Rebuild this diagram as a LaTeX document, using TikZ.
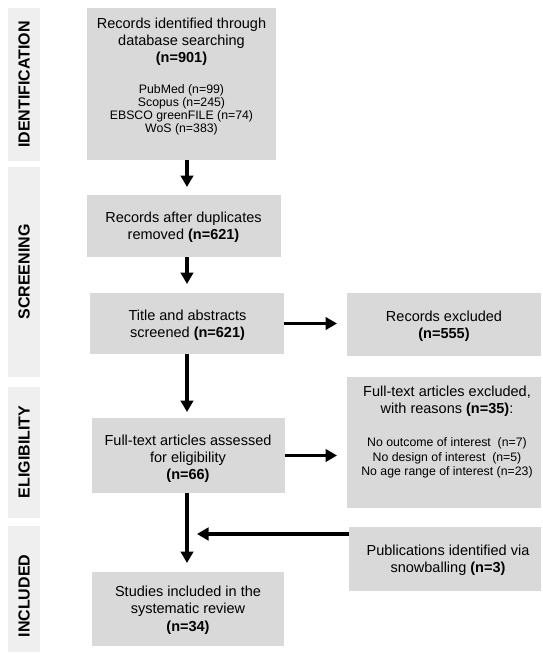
\documentclass[tikz,border=0pt]{standalone}
\usepackage{fontspec}
\setmainfont{Liberation Sans}
\usetikzlibrary{arrows.meta}
\definecolor{boxgray}{HTML}{D9D9D9}
\definecolor{sidegray}{HTML}{EFEFEF}
\begin{document}
\begin{tikzpicture}[x=1pt,y=-1pt,
  box/.style={fill=boxgray, draw=none, inner sep=0pt, outer sep=0pt},
  side/.style={fill=sidegray, draw=none, inner sep=0pt, outer sep=0pt},
  sidetxt/.style={rotate=90, inner sep=0pt, font=\fontsize{16}{19}\selectfont\bfseries},
  maintxt/.style={align=center, inner sep=0pt, font=\fontsize{14.5}{17.2}\selectfont},
  smalltxt/.style={align=center, inner sep=0pt, font=\fontsize{12.3}{13.1}\selectfont},
  arr/.style={line width=3.6pt, -{Triangle[width=12.5pt,length=11.5pt]}}]
\useasboundingbox (0,0) rectangle (542,654);
% side bands
\node[side, minimum width=32pt, minimum height=153pt] (s1) at (24,84.5) {};
\node[side, minimum width=32pt, minimum height=210pt] (s2) at (24,272) {};
\node[side, minimum width=32pt, minimum height=131pt] (s3) at (24,452.5) {};
\node[side, minimum width=32pt, minimum height=126pt] (s4) at (24,589) {};
\node[sidetxt] (l1) at (24,84.5) {IDENTIFICATION};
\node[sidetxt] (l2) at (24,272) {SCREENING};
\node[sidetxt] (l3) at (24,452) {ELIGIBILITY};
\node[sidetxt] (l4) at (24,596) {INCLUDED};
% main boxes
\node[box, minimum width=189pt, minimum height=152pt] (b1) at (181.5,84) {};
\node[box, minimum width=194pt, minimum height=62pt] (b2) at (184,226) {};
\node[box, minimum width=194pt, minimum height=61pt] (b3) at (187,323.5) {};
\node[box, minimum width=193pt, minimum height=75pt] (b4) at (188.5,455.5) {};
\node[box, minimum width=192pt, minimum height=74pt] (b5) at (188,609) {};
\node[box, minimum width=194pt, minimum height=63pt] (rx) at (444,324.5) {};
\node[box, minimum width=194pt, minimum height=131pt] (fx) at (444,442.5) {};
\node[box, minimum width=192pt, minimum height=64pt] (sx) at (445,559) {};
% texts
\node[maintxt] (t1) at (181.5,41.8) {Records identified through\\database searching\\\textbf{(n=901)}};
\node[smalltxt] (t1s) at (181.5,109.5) {PubMed (n=99)\\Scopus (n=245)\\EBSCO greenFILE (n=74)\\WoS (n=383)};
\node[maintxt] (t2) at (183.5,227.2) {Records after duplicates\\removed \textbf{(n=621)}};
\node[maintxt] (t3) at (187.5,324.9) {Title and abstracts\\screened \textbf{(n=621)}};
\node[maintxt] (t4) at (188,458.5) {Full-text articles assessed\\for eligibility\\\textbf{(n=66)}};
\node[maintxt] (t5) at (188,610.2) {Studies included in the\\systematic review\\\textbf{(n=34)}};
\node[maintxt] (tr) at (444,326.5) {Records excluded\\\textbf{(n=555)}};
\node[maintxt] (tf) at (447,401.5) {Full-text articles excluded,\\with reasons \textbf{(n=35)}:};
\node[smalltxt, font=\fontsize{12.3}{14.5}\selectfont] (tfs) at (447,458) {No outcome of interest\ \ (n=7)\\No design of interest\ \ (n=5)\\No age range of interest (n=23)};
\node[maintxt] (ts) at (448,559.9) {Publications identified via\\snowballing \textbf{(n=3)}};
% connectors
\coordinate (ax) at (187,0);
\coordinate (jy) at (0,534);
\draw[arr, shorten >=8pt] (b1.south -| ax) -- (b2.north -| ax);
\draw[arr, shorten >=9pt] (b2.south -| ax) -- (b3.north -| ax);
\draw[arr, shorten >=6pt] (b3.south -| ax) -- (b4.north -| ax);
\draw[arr, shorten >=9pt] (b4.south -| ax) -- (b5.north -| ax);
\draw[arr, shorten >=10pt] (b3.east) -- (b3.east -| rx.west);
\draw[arr, shorten >=10pt] (b4.east) -- (b4.east -| fx.west);
\draw[arr, shorten >=10pt] (sx.west |- jy) -- (ax |- jy);
\end{tikzpicture}
\end{document}
